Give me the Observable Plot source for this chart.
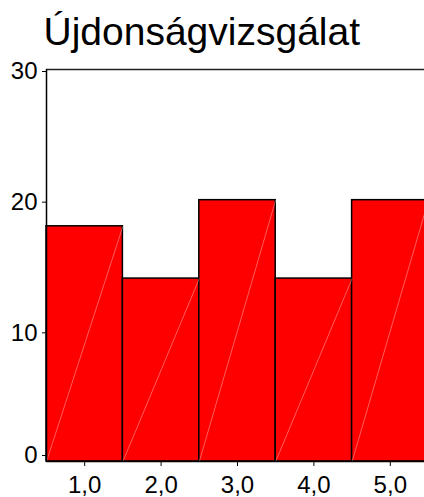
<!DOCTYPE html>
<html>
<head>
<meta charset="utf-8">
<script src="https://cdn.jsdelivr.net/npm/d3@7"></script>
<script src="https://cdn.jsdelivr.net/npm/@observablehq/plot@0.6"></script>
<style>
  html, body { margin: 0; padding: 0; background: #fff; overflow: hidden; }
  #chart svg { font-family: "Liberation Sans", Arial, sans-serif; overflow: hidden; }
</style>
</head>
<body>
<div id="chart"></div>
<script>
const title = "Újdonságvizsgálat";
const categories = [1, 2, 3, 4, 5];
const counts = [18, 14, 20, 14, 20];
const yTicks = [0, 10, 20, 30];

const data = categories.map((c, i) => ({cat: c, count: counts[i]}));
const fmt = d => d.toFixed(1).replace(".", ",");

const chart = Plot.plot({
  width: 424,
  height: 497,
  marginTop: 69,
  marginBottom: 36,
  marginLeft: 46,
  marginRight: 0,
  style: {fontFamily: "'Liberation Sans', Arial, sans-serif", background: "#fff"},
  x: {domain: [0.5, 5.5], range: [46, 428]},
  y: {domain: [0, 30], range: [461, 69]},
  marks: [
    Plot.rect(data, {
      x1: d => d.cat - 0.5, x2: d => d.cat + 0.5, y1: 0, y2: "count",
      fill: "#ff0000", stroke: "#000", strokeWidth: 1.5
    }),
    Plot.link(data, {
      x1: d => d.cat - 0.5, y1: 0, x2: d => d.cat + 0.5, y2: "count",
      stroke: "#fff", strokeOpacity: 0.45, strokeWidth: 0.8
    }),
    Plot.ruleY([30], {stroke: "#222", strokeWidth: 1.5}),
    Plot.ruleY([0], {stroke: "#000", strokeWidth: 1.5}),
    Plot.ruleX([0.5], {stroke: "#000", strokeWidth: 1.5}),
    Plot.axisY({ticks: yTicks.filter(t => t !== 0), tickSize: 4, tickPadding: 5,
      fontSize: 24, label: null, stroke: "#000", color: "#000", dy: 2}),
    Plot.axisY({ticks: [0], tickSize: 4, tickPadding: 5,
      fontSize: 24, label: null, stroke: "#000", color: "#000", dy: -6}),
    Plot.axisX({ticks: categories, tickFormat: fmt, tickSize: 5, tickPadding: 9,
      fontSize: 24, label: null, stroke: "#000", color: "#000"}),
    Plot.text([title], {
      text: d => d, frameAnchor: "top-left", textAnchor: "start", lineAnchor: "bottom",
      dx: -3, dy: -25, fontSize: 39, fill: "#000"
    })
  ]
});
document.getElementById("chart").appendChild(chart);
</script>
</body>
</html>
